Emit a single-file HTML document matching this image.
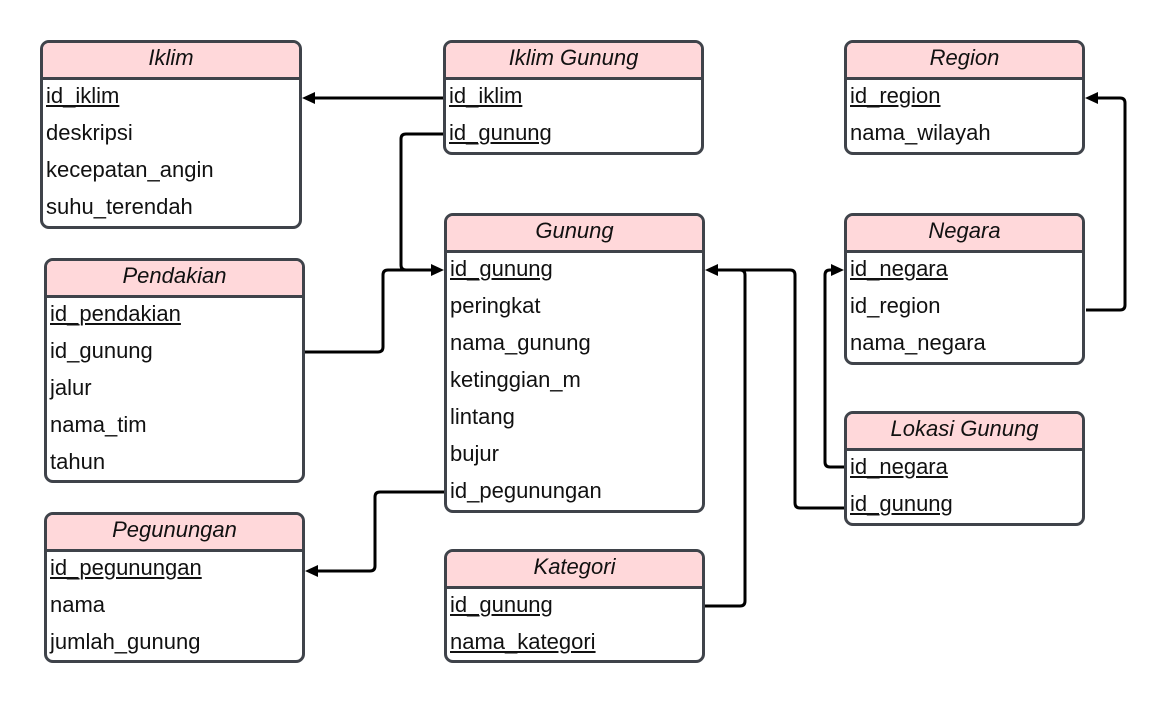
<!DOCTYPE html>
<html><head><meta charset="utf-8"><style>
body{margin:0;width:1165px;height:703px;background:#fff;position:relative;overflow:hidden;font-family:"Liberation Sans",sans-serif}
.t{position:absolute;box-sizing:border-box;border:3px solid #3f434a;border-radius:9px;overflow:hidden;background:#fff}
.h{height:34px;background:#ffd8da;border-bottom:3px solid #3f434a;text-align:center;font-style:italic;font-size:22px;line-height:30px;color:#111}
.r{height:37px;line-height:32px;font-size:22px;padding-left:3px;color:#111;white-space:nowrap}
.u{text-decoration:underline}
svg{position:absolute;left:0;top:0}
</style></head><body>
<div class="t" style="left:40px;top:40px;width:262px;height:189px"><div class="h">Iklim</div><div class="r"><span class="u">id_iklim</span></div><div class="r">deskripsi</div><div class="r">kecepatan_angin</div><div class="r">suhu_terendah</div></div>
<div class="t" style="left:443px;top:40px;width:261px;height:115px"><div class="h">Iklim Gunung</div><div class="r"><span class="u">id_iklim</span></div><div class="r"><span class="u">id_gunung</span></div></div>
<div class="t" style="left:844px;top:40px;width:241px;height:115px"><div class="h">Region</div><div class="r"><span class="u">id_region</span></div><div class="r">nama_wilayah</div></div>
<div class="t" style="left:44px;top:258px;width:261px;height:225px"><div class="h">Pendakian</div><div class="r"><span class="u">id_pendakian</span></div><div class="r">id_gunung</div><div class="r">jalur</div><div class="r">nama_tim</div><div class="r">tahun</div></div>
<div class="t" style="left:444px;top:213px;width:261px;height:300px"><div class="h">Gunung</div><div class="r"><span class="u">id_gunung</span></div><div class="r">peringkat</div><div class="r">nama_gunung</div><div class="r">ketinggian_m</div><div class="r">lintang</div><div class="r">bujur</div><div class="r">id_pegunungan</div></div>
<div class="t" style="left:844px;top:213px;width:241px;height:152px"><div class="h">Negara</div><div class="r"><span class="u">id_negara</span></div><div class="r">id_region</div><div class="r">nama_negara</div></div>
<div class="t" style="left:844px;top:411px;width:241px;height:115px"><div class="h">Lokasi Gunung</div><div class="r"><span class="u">id_negara</span></div><div class="r"><span class="u">id_gunung</span></div></div>
<div class="t" style="left:44px;top:512px;width:261px;height:151px"><div class="h">Pegunungan</div><div class="r"><span class="u">id_pegunungan</span></div><div class="r">nama</div><div class="r">jumlah_gunung</div></div>
<div class="t" style="left:444px;top:549px;width:261px;height:114px"><div class="h">Kategori</div><div class="r"><span class="u">id_gunung</span></div><div class="r"><span class="u">nama_kategori</span></div></div>
<svg width="1165" height="703" fill="none" stroke="#000" stroke-width="3" stroke-linejoin="round">
<path d="M443 98H314"/>
<path d="M443 134H406q-5 0-5 5V265q0 5 5 5H432"/>
<path d="M305 352H378q5 0 5-5V275q0-5 5-5H432"/>
<path d="M444 492H380q-5 0-5 5V566q0 5-5 5H317"/>
<path d="M705 606H740q5 0 5-5V275q0-5-5-5H717"/>
<path d="M844 508H800q-5 0-5-5V275q0-5-5-5H717"/>
<path d="M844 467H830q-5 0-5-5V275q0-5 5-5H832"/>
<path d="M1086 310H1120q5 0 5-5V103q0-5-5-5H1097"/>
<g fill="#000" stroke="none">
<path d="M302 98l13-6v12z"/>
<path d="M444 270l-13-6v12z"/>
<path d="M305 571l13-6v12z"/>
<path d="M705 270l13-6v12z"/>
<path d="M844 270l-13-6v12z"/>
<path d="M1085 98l13-6v12z"/>
</g>
</svg>
</body></html>
